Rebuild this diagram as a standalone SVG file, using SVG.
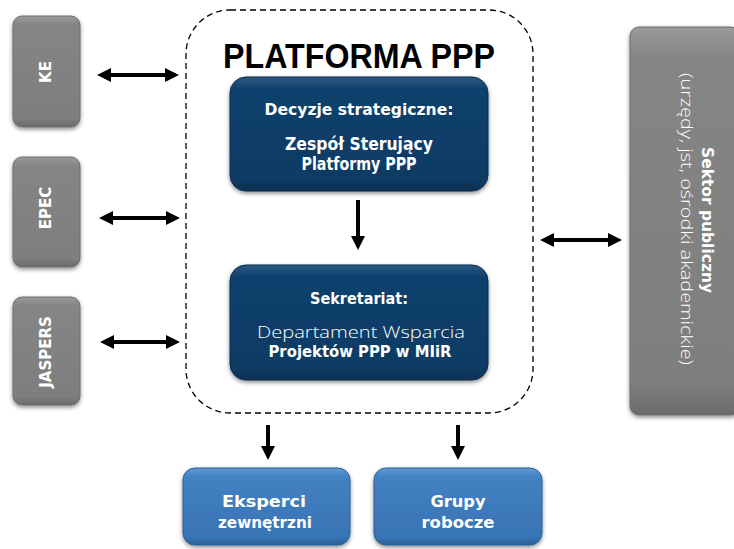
<svg xmlns="http://www.w3.org/2000/svg" width="734" height="549" viewBox="0 0 734 549">
<defs>
  <linearGradient id="gGray" x1="0" y1="0" x2="0" y2="1">
    <stop offset="0" stop-color="#9a9a9a"/>
    <stop offset="0.08" stop-color="#858585"/>
    <stop offset="0.92" stop-color="#7e7e7e"/>
    <stop offset="1" stop-color="#6a6a6a"/>
  </linearGradient>
  <linearGradient id="gNavy" x1="0" y1="0" x2="0" y2="1">
    <stop offset="0" stop-color="#2a5a86"/>
    <stop offset="0.1" stop-color="#11416c"/>
    <stop offset="0.9" stop-color="#0d3b64"/>
    <stop offset="1" stop-color="#0a2f52"/>
  </linearGradient>
  <linearGradient id="gBlue" x1="0" y1="0" x2="0" y2="1">
    <stop offset="0" stop-color="#6198d2"/>
    <stop offset="0.12" stop-color="#4381c3"/>
    <stop offset="0.9" stop-color="#3873b4"/>
    <stop offset="1" stop-color="#2d6099"/>
  </linearGradient>
  <filter id="shadow" x="-10%" y="-10%" width="120%" height="125%">
    <feDropShadow dx="0" dy="2" stdDeviation="2" flood-color="#000" flood-opacity="0.45"/>
  </filter>
  <marker id="ah" viewBox="0 0 14 14" markerWidth="14" markerHeight="14" refX="10" refY="7" orient="auto-start-reverse" markerUnits="userSpaceOnUse">
    <path d="M0,0 L14,7 L0,14 Z" fill="#000"/>
  </marker>
  <style>
    .gray { fill: url(#gGray); stroke: #6f6f6f; stroke-width: 1; filter: url(#shadow); }
    .navy { fill: url(#gNavy); stroke: #0a2c4d; stroke-width: 1; filter: url(#shadow); }
    .blue { fill: url(#gBlue); stroke: #2d5f96; stroke-width: 1; filter: url(#shadow); }
    .lbl { font-family: "DejaVu Sans", "Liberation Sans", sans-serif; font-weight: bold; fill: #ffffff; text-anchor: middle; }
    .light { font-family: "Open Sans", "Lato", "DejaVu Sans", sans-serif; font-weight: 300; fill: #ffffff; text-anchor: middle; }
    .title { font-family: "Liberation Sans", "DejaVu Sans", sans-serif; font-weight: bold; fill: #000000; text-anchor: middle; font-size: 35px; }
    .arr { stroke: #000; stroke-width: 4; fill: none; }
    .frame { fill: none; stroke: #000; stroke-width: 1.3; stroke-dasharray: 6 4; }
  </style>
</defs>

<rect width="734" height="549" fill="#ffffff"/>

<g id="platforma">
  <rect class="frame" x="186" y="10" width="347" height="403" rx="44" ry="44"/>
  <text class="title" x="359" y="68" textLength="272" lengthAdjust="spacingAndGlyphs">PLATFORMA PPP</text>
</g>

<g id="ke">
  <rect class="gray" x="13" y="16" width="67" height="111" rx="9"/>
  <text class="lbl" font-size="15" transform="translate(51,72) rotate(-90)">KE</text>
</g>
<g id="epec">
  <rect class="gray" x="13" y="157" width="67" height="110" rx="9"/>
  <text class="lbl" font-size="15" transform="translate(51,208) rotate(-90)">EPEC</text>
</g>
<g id="jaspers">
  <rect class="gray" x="13" y="297" width="67" height="108" rx="9"/>
  <text class="lbl" font-size="15" transform="translate(51,352) rotate(-90)">JASPERS</text>
</g>

<g id="zespol">
  <rect class="navy" x="230" y="77" width="258" height="114" rx="16"/>
  <text class="lbl" font-size="16.5" x="359" y="115" textLength="189" lengthAdjust="spacingAndGlyphs">Decyzje strategiczne:</text>
  <text class="lbl" font-size="17" x="359" y="150" textLength="148" lengthAdjust="spacingAndGlyphs">Zespół Sterujący</text>
  <text class="lbl" font-size="17" x="359" y="170" textLength="115" lengthAdjust="spacingAndGlyphs">Platformy PPP</text>
</g>

<g id="sekretariat">
  <rect class="navy" x="230" y="265" width="258" height="115" rx="16"/>
  <text class="lbl" font-size="16.5" x="359" y="304" textLength="98" lengthAdjust="spacingAndGlyphs">Sekretariat:</text>
  <text class="light" font-size="17" x="361" y="338" textLength="208" lengthAdjust="spacingAndGlyphs">Departament Wsparcia</text>
  <text class="lbl" font-size="16.5" x="360" y="357" textLength="183" lengthAdjust="spacingAndGlyphs">Projektów PPP w MIiR</text>
</g>

<g id="eksperci">
  <rect class="blue" x="183" y="468" width="167" height="77" rx="12"/>
  <text class="lbl" font-size="16.5" x="264" y="507" textLength="84" lengthAdjust="spacingAndGlyphs">Eksperci</text>
  <text class="lbl" font-size="16.5" x="265" y="528" textLength="94" lengthAdjust="spacingAndGlyphs">zewnętrzni</text>
</g>

<g id="grupy">
  <rect class="blue" x="374" y="468" width="168" height="77" rx="12"/>
  <text class="lbl" font-size="16.5" x="458" y="507" textLength="55" lengthAdjust="spacingAndGlyphs">Grupy</text>
  <text class="lbl" font-size="16.5" x="458" y="528" textLength="73" lengthAdjust="spacingAndGlyphs">robocze</text>
</g>

<g id="sektor">
  <rect class="gray" x="630" y="27" width="110" height="388" rx="9"/>
  <text class="lbl" font-size="15" transform="translate(702,220) rotate(90)" textLength="146" lengthAdjust="spacingAndGlyphs">Sektor publiczny</text>
  <text class="light" font-size="16" transform="translate(681,219) rotate(90)" textLength="292" lengthAdjust="spacingAndGlyphs">(urzędy, jst, ośrodki akademickie)</text>
</g>

<g id="connectors">
  <line class="arr" x1="101" y1="75" x2="175" y2="75" marker-start="url(#ah)" marker-end="url(#ah)"/>
  <line class="arr" x1="103" y1="218" x2="176" y2="218" marker-start="url(#ah)" marker-end="url(#ah)"/>
  <line class="arr" x1="104" y1="342" x2="176" y2="342" marker-start="url(#ah)" marker-end="url(#ah)"/>
  <line class="arr" x1="544" y1="240" x2="618" y2="240" marker-start="url(#ah)" marker-end="url(#ah)"/>
  <line class="arr" x1="358" y1="200" x2="358" y2="246" marker-end="url(#ah)"/>
  <line class="arr" x1="268" y1="425" x2="268" y2="456" marker-end="url(#ah)"/>
  <line class="arr" x1="458" y1="425" x2="458" y2="456" marker-end="url(#ah)"/>
</g>
</svg>
